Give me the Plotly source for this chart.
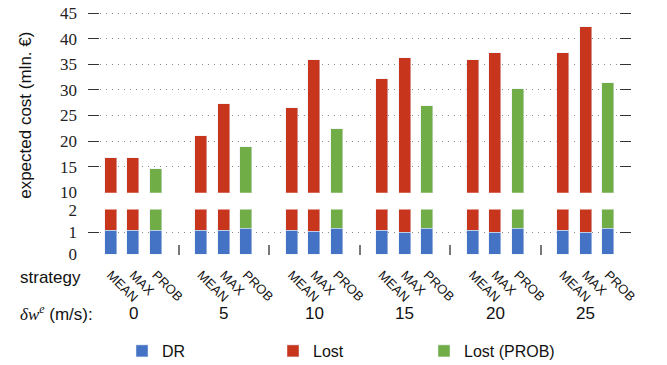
import plotly.graph_objects as go

# ---- data ----
groups = ["0", "5", "10", "15", "20", "25"]
strategies = ["MEAN", "MAX", "PROB"]
dr_mean = [1.06, 1.06, 1.06, 1.06, 1.06, 1.06]
dr_max = [1.06, 1.06, 1.02, 0.97, 0.97, 0.97]
dr_prob = [1.10, 1.15, 1.15, 1.15, 1.15, 1.15]
lost_mean = [15.6, 19.9, 25.4, 31.0, 34.8, 36.1]
lost_max = [15.6, 26.1, 34.9, 35.2, 36.2, 41.3]
lost_prob = [13.4, 17.7, 21.2, 25.7, 29.1, 30.2]
upper_ticks = [10, 15, 20, 25, 30, 35, 40, 45]
lower_ticks = [0, 1, 2]

BLUE = "#4472C4"
RED = "#C8351D"
GREEN = "#70AD47"
SERIF = "Liberation Serif"
SANS = "Liberation Sans"

n = len(groups)
slot = lambda g, i: 4 * g + i
x_mean = [slot(g, 0) for g in range(n)]
x_max = [slot(g, 1) for g in range(n)]
x_prob = [slot(g, 2) for g in range(n)]
gap_ticks = [slot(g, 3) for g in range(n - 1)]

x_dr = x_mean + x_max + x_prob
y_dr = dr_mean + dr_max + dr_prob
x_lost = x_mean + x_max
y_lost = lost_mean + lost_max

fig = go.Figure()
W = 0.53
for ya, show in (("y", True), ("y2", False)):
    fig.add_trace(go.Bar(x=x_dr, y=y_dr, name="DR", marker_color=BLUE, width=W,
                         yaxis=ya, legendgroup="dr", showlegend=show))
    fig.add_trace(go.Bar(x=x_lost, y=y_lost, name="Lost", marker_color=RED, width=W,
                         yaxis=ya, legendgroup="lost", showlegend=show))
    fig.add_trace(go.Bar(x=x_prob, y=lost_prob, name="Lost (PROB)", marker_color=GREEN,
                         width=W, yaxis=ya, legendgroup="prob", showlegend=show))
# invisible carrier so the gap-tick axis is drawn
fig.add_trace(go.Scatter(x=gap_ticks, y=[0] * len(gap_ticks), xaxis="x3", yaxis="y2",
                         mode="markers", marker=dict(opacity=0), showlegend=False,
                         hoverinfo="skip"))

# screen-space layout (page body margin removed by post_script)
FW, FH = 667, 365
TOP, BOT = 12.3, 255.0          # screen px of plot-area top / bottom
LEFT, RIGHT = 88, 631
L, T = LEFT, TOP
PW, PH = RIGHT - LEFT, BOT - TOP
def py(p):
    return (BOT - p) / PH
def px(p):
    return (p - LEFT) / PW

yax_common = dict(
    ticks="inside", ticklen=11, tickwidth=1.3, tickcolor="#333",
    mirror="ticks", showline=False, zeroline=False, automargin=False,
    showgrid=True, gridcolor="#8c8c8c", griddash="1px,5px", gridwidth=1,
    tickfont=dict(family=SERIF, size=17, color="#222"),
    ticklabelstandoff=10,
)

fig.update_layout(
    width=FW, height=FH,
    margin=dict(l=L, r=FW - L - PW, t=T, b=FH - T - PH),
    plot_bgcolor="white", paper_bgcolor="white",
    barmode="stack", bargap=0,
    xaxis=dict(range=[-1, 23], anchor="y2", tickvals=x_mean + x_max + x_prob,
               ticktext=[strategies[0]] * n + [strategies[1]] * n + [strategies[2]] * n,
               tickangle=45, ticks="", showgrid=False, zeroline=False, showline=False,
               automargin=False, ticklabelstandoff=9,
               tickfont=dict(family=SANS, size=13, color="#111")),
    xaxis3=dict(range=[-1, 23], overlaying="x", anchor="y2", tickvals=gap_ticks,
                ticks="inside", ticklen=10, tickwidth=2, tickcolor="#777", automargin=False,
                showticklabels=False, showgrid=False, zeroline=False, showline=False),
    yaxis=dict(domain=[py(192.8), 1], range=[9.9, 45.2], tickvals=upper_ticks, **yax_common),
    yaxis2=dict(domain=[0, py(209.6)], range=[-0.03, 2.03], tickvals=lower_ticks, **yax_common),
    legend=dict(orientation="h", x=px(122), xanchor="left",
                yref="container", y=(FH - 351) / FH, yanchor="middle",
                entrywidth=106, entrywidthmode="pixels", bgcolor="rgba(0,0,0,0)",
                font=dict(family=SANS, size=16, color="#111"), traceorder="normal"),
    showlegend=True,
)

annots = [
    dict(text="expected cost (mln. €)", x=px(26), y=py(116), textangle=-90,
         font=dict(family=SANS, size=17, color="#111")),
    dict(text="strategy", x=px(18), y=py(277), xanchor="left",
         font=dict(family=SANS, size=17, color="#111")),
    dict(text="<span style='font-family:Liberation Serif'><i>δw</i><sup><i>e</i></sup></span> (m/s):",
         x=px(18), y=py(313), xanchor="left",
         font=dict(family=SANS, size=17, color="#111")),
]
for a in annots:
    a.update(xref="paper", yref="paper", showarrow=False, yanchor="middle")
    a.setdefault("xanchor", "center")
    fig.add_annotation(**a)
for g, lab in enumerate(groups):
    fig.add_annotation(text=lab, x=slot(g, 1), xref="x", y=py(313), yref="paper",
                       showarrow=False, xanchor="center", yanchor="middle",
                       font=dict(family=SANS, size=17, color="#111"))

fig.write_html("out.html", config={"displayModeBar": False},
               post_script="document.body.style.margin='0';document.body.style.overflow='hidden';")
